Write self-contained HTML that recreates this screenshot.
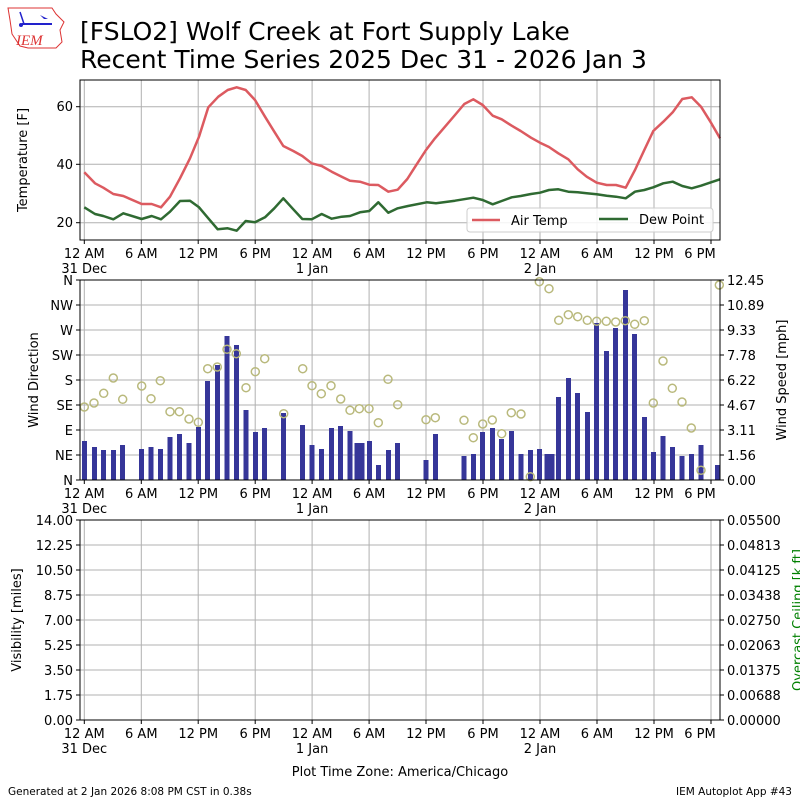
<!DOCTYPE html>
<html><head><meta charset="utf-8"><style>
body{margin:0;background:#fff}
svg{display:block;font-family:"DejaVu Sans","Liberation Sans",sans-serif}
</style></head><body>
<svg width="800" height="800" viewBox="0 0 800 800" xmlns="http://www.w3.org/2000/svg">
<rect width="800" height="800" fill="#fff"/>
<!-- logo -->
<g>
<path d="M8,8 L52,8 L56,14 L64,22 L60,30 L62,42 L56,48 L28,48 L20,46 L12,34 L10,20 Z" fill="#fff" stroke="#d33" stroke-width="1"/>
<line x1="22" y1="24" x2="52" y2="24" stroke="#22c" stroke-width="2"/>
<line x1="20" y1="12" x2="24" y2="24" stroke="#22c" stroke-width="1.5"/>
<path d="M40,15 L48,19 L44,19 Z" fill="#22c"/>
<circle cx="21" cy="25" r="2" fill="#22c"/>
<text x="16" y="45" font-family="Liberation Serif,serif" font-style="italic" font-size="15" fill="#d33">IEM</text>
</g>
<text x="80" y="40" font-size="25" fill="#000">[FSLO2] Wolf Creek at Fort Supply Lake</text>
<text x="80" y="68" font-size="25" fill="#000">Recent Time Series 2025 Dec 31 - 2026 Jan 3</text>

<!-- ============ PANEL 1 ============ -->
<g stroke="#b0b0b0" stroke-width="1">
<line x1="84.3" y1="80" x2="84.3" y2="240"/><line x1="141.3" y1="80" x2="141.3" y2="240"/><line x1="198.2" y1="80" x2="198.2" y2="240"/><line x1="255.2" y1="80" x2="255.2" y2="240"/><line x1="312.1" y1="80" x2="312.1" y2="240"/><line x1="369.1" y1="80" x2="369.1" y2="240"/><line x1="426" y1="80" x2="426" y2="240"/><line x1="483" y1="80" x2="483" y2="240"/><line x1="540" y1="80" x2="540" y2="240"/><line x1="597" y1="80" x2="597" y2="240"/><line x1="654" y1="80" x2="654" y2="240"/><line x1="711" y1="80" x2="711" y2="240"/>
<line x1="80" y1="106.7" x2="720" y2="106.7"/><line x1="80" y1="164.3" x2="720" y2="164.3"/><line x1="80" y1="222.7" x2="720" y2="222.7"/>
</g>
<polyline fill="none" stroke="#dc5a60" stroke-width="2.5" stroke-linejoin="round" points="84.3,172.3 95,183.3 103.3,187.7 113.3,194 123.3,196 141.7,204 151.7,204 161,207.3 170,196.7 180,178.3 190,158.3 199,136.7 208.3,107.3 218.3,96.7 227.7,90 236.7,87.3 245.7,90 255,100 265,116.7 274.3,131.7 283.3,146 293.3,151 302.3,156 311.7,163.3 321.7,166 331.7,171.7 341.7,176.7 350,180.7 360,181.7 369.3,184.7 378.3,185 388.3,191.7 397.7,189.7 407.3,179 416.7,164.3 426,150 435,138.3 445,126.7 455,115 464.3,104 473.3,99.3 482.7,105 492.7,115.7 501.7,119.3 511.7,125.7 520.7,131 531,137.7 540,142.7 549,147 558.3,153.3 568.3,159.3 577.7,169.3 586.7,176.7 596.7,182.7 606.7,185 616,185 625.7,187.7 635,170 644.3,150 653.3,131 663.3,121.7 672.7,112.3 682.3,99 691.7,97.3 701,106.7 711,122.7 720,138.3"/>
<polyline fill="none" stroke="#2f6a32" stroke-width="2.5" stroke-linejoin="round" points="84.3,207.3 95,214 103.3,216 113.3,219.3 123.3,213.3 141.7,219 151.7,216 161,219.3 170,211.7 180,201 190,200.7 199,207.3 208.3,218.3 217.7,229.3 227.7,228.3 236.7,230.7 245.7,221 255,222.3 265,217.3 274.3,208.3 283.3,198.3 293.3,209.3 302.3,219 311.7,219.3 321.7,214 331.7,218.7 341.7,216.7 350,216 360,212.3 369.3,211 378.3,202.3 388.3,212.7 397.7,208.3 408,206 426.7,202.3 436,203.3 455,200.7 473.3,197.7 482.7,200 492.7,204.3 501.7,201 511.7,197.3 520.7,196 531,194 540,192.7 549,190 558.3,189.3 568.3,191.7 577.7,192.3 586.7,193.3 596.7,194.3 606.7,195.7 616,196.7 625.7,198.3 635,191.7 644.3,190 653.3,187.3 663.3,183.3 672.7,181.7 682.3,186 691.7,188.3 701,185.7 711,182.3 720,179.3"/>
<rect x="80" y="80" width="640" height="160" fill="none" stroke="#000" stroke-width="1"/>
<!-- legend -->
<rect x="467" y="208" width="246" height="24" rx="3" fill="#fff" fill-opacity="0.85" stroke="#ccc"/>
<line x1="472" y1="220" x2="500" y2="220" stroke="#dc5a60" stroke-width="2.5"/>
<text x="511" y="225" font-size="13">Air Temp</text>
<line x1="599" y1="219" x2="628" y2="219" stroke="#2f6a32" stroke-width="2.5"/>
<text x="639" y="224" font-size="13">Dew Point</text>
<!-- y ticks -->
<g stroke="#000"><line x1="76" y1="106.7" x2="80" y2="106.7"/><line x1="76" y1="164.3" x2="80" y2="164.3"/><line x1="76" y1="222.7" x2="80" y2="222.7"/></g>
<g font-size="13" text-anchor="end"><text x="73" y="111">60</text><text x="73" y="169">40</text><text x="73" y="227">20</text></g>
<text transform="translate(27,160) rotate(-90)" font-size="13" text-anchor="middle">Temperature [F]</text>
<!-- x ticks panel1 -->
<g stroke="#000"><line x1="84.3" y1="240" x2="84.3" y2="244"/><line x1="141.3" y1="240" x2="141.3" y2="244"/><line x1="198.2" y1="240" x2="198.2" y2="244"/><line x1="255.2" y1="240" x2="255.2" y2="244"/><line x1="312.1" y1="240" x2="312.1" y2="244"/><line x1="369.1" y1="240" x2="369.1" y2="244"/><line x1="426" y1="240" x2="426" y2="244"/><line x1="483" y1="240" x2="483" y2="244"/><line x1="540" y1="240" x2="540" y2="244"/><line x1="597" y1="240" x2="597" y2="244"/><line x1="654" y1="240" x2="654" y2="244"/><line x1="711" y1="240" x2="711" y2="244"/></g>
<g font-size="13" text-anchor="middle">
<text x="84.3" y="258">12 AM</text><text x="141.3" y="258">6 AM</text><text x="198.2" y="258">12 PM</text><text x="255.2" y="258">6 PM</text><text x="312.1" y="258">12 AM</text><text x="369.1" y="258">6 AM</text><text x="426" y="258">12 PM</text><text x="483" y="258">6 PM</text><text x="540" y="258">12 AM</text><text x="597" y="258">6 AM</text><text x="654" y="258">12 PM</text><text x="700" y="258">6 PM</text>
<text x="84.3" y="273">31 Dec</text><text x="312.1" y="273">1 Jan</text><text x="540" y="273">2 Jan</text>
</g>

<!-- ============ PANEL 2 ============ -->
<g stroke="#b0b0b0" stroke-width="1">
<line x1="84.3" y1="280" x2="84.3" y2="480"/><line x1="141.3" y1="280" x2="141.3" y2="480"/><line x1="198.2" y1="280" x2="198.2" y2="480"/><line x1="255.2" y1="280" x2="255.2" y2="480"/><line x1="312.1" y1="280" x2="312.1" y2="480"/><line x1="369.1" y1="280" x2="369.1" y2="480"/><line x1="426" y1="280" x2="426" y2="480"/><line x1="483" y1="280" x2="483" y2="480"/><line x1="540" y1="280" x2="540" y2="480"/><line x1="597" y1="280" x2="597" y2="480"/><line x1="654" y1="280" x2="654" y2="480"/><line x1="711" y1="280" x2="711" y2="480"/>
<line x1="80" y1="305" x2="720" y2="305"/><line x1="80" y1="330" x2="720" y2="330"/><line x1="80" y1="355" x2="720" y2="355"/><line x1="80" y1="380" x2="720" y2="380"/><line x1="80" y1="405" x2="720" y2="405"/><line x1="80" y1="430" x2="720" y2="430"/><line x1="80" y1="455" x2="720" y2="455"/>
</g>
<g fill="#363699">
<rect x="82" y="441" width="5" height="39"/><rect x="92" y="447" width="5" height="33"/><rect x="101" y="450" width="5" height="30"/><rect x="111" y="450" width="5" height="30"/><rect x="120" y="445" width="5" height="35"/>
<rect x="139" y="449" width="5" height="31"/><rect x="148.5" y="447" width="5" height="33"/><rect x="158" y="449" width="5" height="31"/><rect x="167.5" y="437" width="5" height="43"/><rect x="177" y="434" width="5" height="46"/><rect x="186.5" y="443" width="5" height="37"/><rect x="196" y="427" width="5" height="53"/><rect x="205" y="381" width="5" height="99"/><rect x="215" y="365" width="5" height="115"/><rect x="224.5" y="336" width="5" height="144"/><rect x="234" y="345" width="5" height="135"/><rect x="243.5" y="410" width="5" height="70"/><rect x="253" y="432" width="5" height="48"/><rect x="262" y="428" width="5" height="52"/><rect x="281" y="413" width="5" height="67"/><rect x="300" y="425" width="5" height="55"/><rect x="309.5" y="445" width="5" height="35"/><rect x="319" y="449" width="5" height="31"/><rect x="329" y="428" width="5" height="52"/><rect x="338" y="426" width="5" height="54"/><rect x="347.5" y="431" width="5" height="49"/><rect x="354.5" y="443" width="10" height="37"/><rect x="367" y="441" width="5" height="39"/><rect x="376" y="465" width="5" height="15"/><rect x="386" y="450" width="5" height="30"/><rect x="395" y="443" width="5" height="37"/>
<rect x="423.5" y="460" width="5" height="20"/><rect x="433" y="434" width="5" height="46"/><rect x="461.5" y="456" width="5" height="24"/><rect x="471" y="454" width="5" height="26"/><rect x="480" y="432" width="5" height="48"/><rect x="490" y="428" width="5" height="52"/><rect x="499" y="439" width="5" height="41"/><rect x="509" y="431" width="5" height="49"/><rect x="518.5" y="454" width="5" height="26"/><rect x="528" y="450" width="5" height="30"/><rect x="537" y="449" width="5" height="31"/><rect x="544.5" y="454" width="10" height="26"/><rect x="556" y="397" width="5" height="83"/><rect x="566" y="378" width="5" height="102"/><rect x="575" y="393" width="5" height="87"/><rect x="585" y="412" width="5" height="68"/><rect x="594" y="323" width="5" height="157"/><rect x="604" y="351" width="5" height="129"/><rect x="613" y="328" width="5" height="152"/><rect x="623" y="290" width="5" height="190"/><rect x="632" y="334" width="5" height="146"/><rect x="642" y="417" width="5" height="63"/><rect x="651" y="452" width="5" height="28"/><rect x="660.5" y="436" width="5" height="44"/><rect x="670" y="447" width="5" height="33"/><rect x="679.5" y="456" width="5" height="24"/><rect x="689" y="454" width="5" height="26"/><rect x="698.5" y="445" width="5" height="35"/><rect x="715" y="465" width="5" height="15"/>
</g>
<g fill="none" stroke="#b9b97c" stroke-width="1.5">
<circle cx="84.3" cy="407" r="4"/><circle cx="94" cy="403" r="4"/><circle cx="103.7" cy="393.3" r="4"/><circle cx="113.3" cy="378" r="4"/><circle cx="122.7" cy="399.3" r="4"/><circle cx="141.7" cy="386" r="4"/><circle cx="151" cy="398.7" r="4"/><circle cx="160.3" cy="380.7" r="4"/><circle cx="170" cy="411.7" r="4"/><circle cx="179.3" cy="411.7" r="4"/><circle cx="189" cy="419" r="4"/><circle cx="198.3" cy="422.3" r="4"/><circle cx="207.7" cy="368.7" r="4"/><circle cx="217.3" cy="367" r="4"/><circle cx="227" cy="349.3" r="4"/><circle cx="236.3" cy="353.7" r="4"/><circle cx="246" cy="387.7" r="4"/><circle cx="255.3" cy="371.7" r="4"/><circle cx="264.7" cy="358.7" r="4"/><circle cx="283.7" cy="413.7" r="4"/><circle cx="302.7" cy="368.7" r="4"/><circle cx="312" cy="385.7" r="4"/><circle cx="321.3" cy="393.7" r="4"/><circle cx="331" cy="385.7" r="4"/><circle cx="340.7" cy="399" r="4"/><circle cx="350" cy="410.3" r="4"/><circle cx="359.3" cy="408.7" r="4"/><circle cx="369" cy="408.7" r="4"/><circle cx="378.3" cy="422.7" r="4"/><circle cx="388" cy="379.3" r="4"/><circle cx="397.7" cy="404.7" r="4"/>
<circle cx="426" cy="419.7" r="4"/><circle cx="435.3" cy="417.7" r="4"/><circle cx="464" cy="420.3" r="4"/><circle cx="473.3" cy="437.7" r="4"/><circle cx="482.7" cy="424" r="4"/><circle cx="492.3" cy="420" r="4"/><circle cx="501.7" cy="433.7" r="4"/><circle cx="511.3" cy="412.7" r="4"/><circle cx="521" cy="414" r="4"/><circle cx="530.3" cy="476.7" r="4"/><circle cx="539.3" cy="281.7" r="4"/><circle cx="549" cy="288.7" r="4"/><circle cx="558.7" cy="320.3" r="4"/><circle cx="568.3" cy="314.7" r="4"/><circle cx="577.7" cy="316.7" r="4"/><circle cx="587.3" cy="320.3" r="4"/><circle cx="596.7" cy="321.3" r="4"/><circle cx="606.3" cy="321.3" r="4"/><circle cx="615.7" cy="322" r="4"/><circle cx="625.3" cy="320.7" r="4"/><circle cx="634.7" cy="324.3" r="4"/><circle cx="644.3" cy="320.7" r="4"/><circle cx="653.3" cy="403" r="4"/><circle cx="663" cy="361" r="4"/><circle cx="672.3" cy="388.3" r="4"/><circle cx="682" cy="402" r="4"/><circle cx="691.3" cy="428" r="4"/><circle cx="701" cy="470.3" r="4"/><circle cx="719.3" cy="285" r="4"/>
</g>
<rect x="80" y="280" width="640" height="200" fill="none" stroke="#000" stroke-width="1"/>
<g stroke="#000">
<line x1="76" y1="280" x2="80" y2="280"/><line x1="76" y1="305" x2="80" y2="305"/><line x1="76" y1="330" x2="80" y2="330"/><line x1="76" y1="355" x2="80" y2="355"/><line x1="76" y1="380" x2="80" y2="380"/><line x1="76" y1="405" x2="80" y2="405"/><line x1="76" y1="430" x2="80" y2="430"/><line x1="76" y1="455" x2="80" y2="455"/><line x1="76" y1="480" x2="80" y2="480"/>
<line x1="720" y1="280" x2="724" y2="280"/><line x1="720" y1="305" x2="724" y2="305"/><line x1="720" y1="330" x2="724" y2="330"/><line x1="720" y1="355" x2="724" y2="355"/><line x1="720" y1="380" x2="724" y2="380"/><line x1="720" y1="405" x2="724" y2="405"/><line x1="720" y1="430" x2="724" y2="430"/><line x1="720" y1="455" x2="724" y2="455"/><line x1="720" y1="480" x2="724" y2="480"/>
</g>
<g font-size="13" text-anchor="end">
<text x="73" y="285">N</text><text x="73" y="310">NW</text><text x="73" y="335">W</text><text x="73" y="360">SW</text><text x="73" y="385">S</text><text x="73" y="410">SE</text><text x="73" y="435">E</text><text x="73" y="460">NE</text><text x="73" y="485">N</text>
</g>
<g font-size="13">
<text x="727" y="285">12.45</text><text x="727" y="310">10.89</text><text x="727" y="335">9.33</text><text x="727" y="360">7.78</text><text x="727" y="385">6.22</text><text x="727" y="410">4.67</text><text x="727" y="435">3.11</text><text x="727" y="460">1.56</text><text x="727" y="485">0.00</text>
</g>
<text transform="translate(38,380) rotate(-90)" font-size="13" text-anchor="middle">Wind Direction</text>
<text transform="translate(786,380) rotate(-90)" font-size="13" text-anchor="middle">Wind Speed [mph]</text>
<g stroke="#000"><line x1="84.3" y1="480" x2="84.3" y2="484"/><line x1="141.3" y1="480" x2="141.3" y2="484"/><line x1="198.2" y1="480" x2="198.2" y2="484"/><line x1="255.2" y1="480" x2="255.2" y2="484"/><line x1="312.1" y1="480" x2="312.1" y2="484"/><line x1="369.1" y1="480" x2="369.1" y2="484"/><line x1="426" y1="480" x2="426" y2="484"/><line x1="483" y1="480" x2="483" y2="484"/><line x1="540" y1="480" x2="540" y2="484"/><line x1="597" y1="480" x2="597" y2="484"/><line x1="654" y1="480" x2="654" y2="484"/><line x1="711" y1="480" x2="711" y2="484"/></g>
<g font-size="13" text-anchor="middle">
<text x="84.3" y="498">12 AM</text><text x="141.3" y="498">6 AM</text><text x="198.2" y="498">12 PM</text><text x="255.2" y="498">6 PM</text><text x="312.1" y="498">12 AM</text><text x="369.1" y="498">6 AM</text><text x="426" y="498">12 PM</text><text x="483" y="498">6 PM</text><text x="540" y="498">12 AM</text><text x="597" y="498">6 AM</text><text x="654" y="498">12 PM</text><text x="700" y="498">6 PM</text>
<text x="84.3" y="513">31 Dec</text><text x="312.1" y="513">1 Jan</text><text x="540" y="513">2 Jan</text>
</g>

<!-- ============ PANEL 3 ============ -->
<g stroke="#b0b0b0" stroke-width="1">
<line x1="84.3" y1="520" x2="84.3" y2="720"/><line x1="141.3" y1="520" x2="141.3" y2="720"/><line x1="198.2" y1="520" x2="198.2" y2="720"/><line x1="255.2" y1="520" x2="255.2" y2="720"/><line x1="312.1" y1="520" x2="312.1" y2="720"/><line x1="369.1" y1="520" x2="369.1" y2="720"/><line x1="426" y1="520" x2="426" y2="720"/><line x1="483" y1="520" x2="483" y2="720"/><line x1="540" y1="520" x2="540" y2="720"/><line x1="597" y1="520" x2="597" y2="720"/><line x1="654" y1="520" x2="654" y2="720"/><line x1="711" y1="520" x2="711" y2="720"/>
<line x1="80" y1="545" x2="720" y2="545"/><line x1="80" y1="570" x2="720" y2="570"/><line x1="80" y1="595" x2="720" y2="595"/><line x1="80" y1="620" x2="720" y2="620"/><line x1="80" y1="645" x2="720" y2="645"/><line x1="80" y1="670" x2="720" y2="670"/><line x1="80" y1="695" x2="720" y2="695"/>
</g>
<rect x="80" y="520" width="640" height="200" fill="none" stroke="#000" stroke-width="1"/>
<g stroke="#000">
<line x1="76" y1="520" x2="80" y2="520"/><line x1="76" y1="545" x2="80" y2="545"/><line x1="76" y1="570" x2="80" y2="570"/><line x1="76" y1="595" x2="80" y2="595"/><line x1="76" y1="620" x2="80" y2="620"/><line x1="76" y1="645" x2="80" y2="645"/><line x1="76" y1="670" x2="80" y2="670"/><line x1="76" y1="695" x2="80" y2="695"/><line x1="76" y1="720" x2="80" y2="720"/>
<line x1="720" y1="520" x2="724" y2="520"/><line x1="720" y1="545" x2="724" y2="545"/><line x1="720" y1="570" x2="724" y2="570"/><line x1="720" y1="595" x2="724" y2="595"/><line x1="720" y1="620" x2="724" y2="620"/><line x1="720" y1="645" x2="724" y2="645"/><line x1="720" y1="670" x2="724" y2="670"/><line x1="720" y1="695" x2="724" y2="695"/><line x1="720" y1="720" x2="724" y2="720"/>
</g>
<g font-size="13" text-anchor="end">
<text x="73" y="525">14.00</text><text x="73" y="550">12.25</text><text x="73" y="575">10.50</text><text x="73" y="600">8.75</text><text x="73" y="625">7.00</text><text x="73" y="650">5.25</text><text x="73" y="675">3.50</text><text x="73" y="700">1.75</text><text x="73" y="725">0.00</text>
</g>
<g font-size="13">
<text x="727" y="525">0.05500</text><text x="727" y="550">0.04813</text><text x="727" y="575">0.04125</text><text x="727" y="600">0.03438</text><text x="727" y="625">0.02750</text><text x="727" y="650">0.02063</text><text x="727" y="675">0.01375</text><text x="727" y="700">0.00688</text><text x="727" y="725">0.00000</text>
</g>
<text transform="translate(21,620) rotate(-90)" font-size="13" text-anchor="middle">Visibility [miles]</text>
<text transform="translate(802,620) rotate(-90)" font-size="13" text-anchor="middle" fill="green">Overcast Ceiling [k ft]</text>
<g stroke="#000"><line x1="84.3" y1="720" x2="84.3" y2="724"/><line x1="141.3" y1="720" x2="141.3" y2="724"/><line x1="198.2" y1="720" x2="198.2" y2="724"/><line x1="255.2" y1="720" x2="255.2" y2="724"/><line x1="312.1" y1="720" x2="312.1" y2="724"/><line x1="369.1" y1="720" x2="369.1" y2="724"/><line x1="426" y1="720" x2="426" y2="724"/><line x1="483" y1="720" x2="483" y2="724"/><line x1="540" y1="720" x2="540" y2="724"/><line x1="597" y1="720" x2="597" y2="724"/><line x1="654" y1="720" x2="654" y2="724"/><line x1="711" y1="720" x2="711" y2="724"/></g>
<g font-size="13" text-anchor="middle">
<text x="84.3" y="738">12 AM</text><text x="141.3" y="738">6 AM</text><text x="198.2" y="738">12 PM</text><text x="255.2" y="738">6 PM</text><text x="312.1" y="738">12 AM</text><text x="369.1" y="738">6 AM</text><text x="426" y="738">12 PM</text><text x="483" y="738">6 PM</text><text x="540" y="738">12 AM</text><text x="597" y="738">6 AM</text><text x="654" y="738">12 PM</text><text x="700" y="738">6 PM</text>
<text x="84.3" y="753">31 Dec</text><text x="312.1" y="753">1 Jan</text><text x="540" y="753">2 Jan</text>
<text x="400" y="776">Plot Time Zone: America/Chicago</text>
</g>
<text x="8" y="795" font-size="10.5">Generated at 2 Jan 2026 8:08 PM CST in 0.38s</text>
<text x="792" y="795" font-size="10.5" text-anchor="end">IEM Autoplot App #43</text>
</svg>
</body></html>
